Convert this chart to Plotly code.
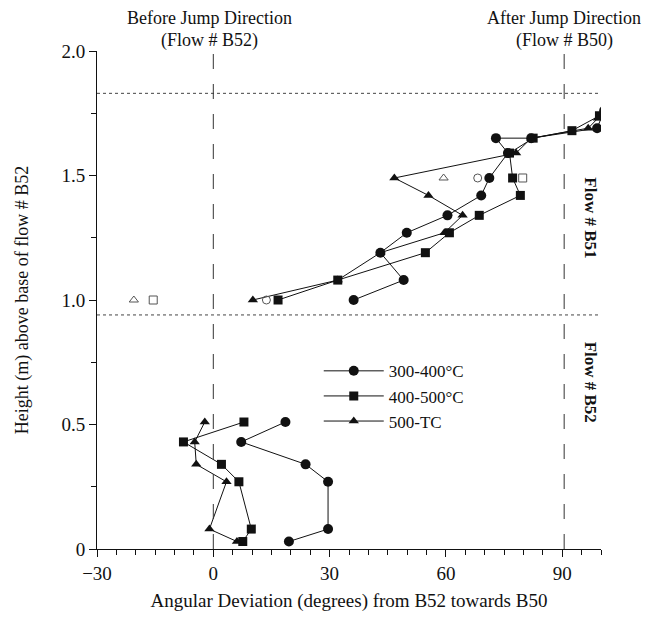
import plotly.graph_objects as go

# ---- data (angular deviation in degrees, height in m) ----
c_x = [19.5, 29.6, 29.6, 23.8, 7.2, 18.6]
c_y = [0.03, 0.08, 0.27, 0.34, 0.43, 0.51]
c2_x = [36.2, 49.1, 43.1, 49.9, 60.4, 69.1, 71.2, 76.0, 72.9, 82.0, 99.0, 100.8]
c2_y = [1.00, 1.08, 1.19, 1.27, 1.34, 1.42, 1.49, 1.59, 1.65, 1.65, 1.69, 1.76]

s_x = [7.6, 9.8, 6.6, 2.1, -7.7, 7.9]
s_y = [0.03, 0.08, 0.27, 0.34, 0.43, 0.51]
s2_x = [16.7, 32.1, 54.7, 60.9, 68.6, 79.2, 77.2, 76.4, 82.5, 92.5, 99.6]
s2_y = [1.00, 1.08, 1.19, 1.27, 1.34, 1.42, 1.49, 1.59, 1.65, 1.68, 1.74]

t_x = [6.1, -1.0, 3.4, -4.4, -4.8, -2.2]
t_y = [0.03, 0.08, 0.27, 0.34, 0.43, 0.51]
t2_x = [10.2, 32.1, 43.1, 59.6, 64.3, 55.5, 46.7, 78.1, 82.0, 96.7, 99.2]
t2_y = [1.00, 1.08, 1.19, 1.27, 1.34, 1.42, 1.49, 1.59, 1.65, 1.69, 1.73]

open_tri_x = [-20.5, 59.4]
open_tri_y = [1.00, 1.49]
open_circ_x = [13.7, 68.2]
open_circ_y = [1.00, 1.49]
open_sq_x = [-15.5, 79.8]
open_sq_y = [1.00, 1.49]

flow_bounds = [0.94, 1.83]
jump_dirs = [0, 90.5]

series_names = ["300-400°C", "400-500°C", "500-TC"]

x_ticks = [-30, 0, 30, 60, 90]
y_ticks = [0, 0.5, 1.0, 1.5, 2.0]
y_ticktext = ["0", "0.5", "1.0", "1.5", "2.0"]

FONT = "Liberation Serif"
BLACK = "#111111"

fig = go.Figure()

def add_series(xl, yl, xu, yu, name, symbol, size):
    fig.add_trace(go.Scatter(x=xl, y=yl, mode="lines+markers", name=name,
                             line=dict(color=BLACK, width=1),
                             marker=dict(symbol=symbol, size=size, color=BLACK),
                             legendgroup=name, showlegend=True))
    fig.add_trace(go.Scatter(x=xu, y=yu, mode="lines+markers", name=name,
                             line=dict(color=BLACK, width=1),
                             marker=dict(symbol=symbol, size=size, color=BLACK),
                             legendgroup=name, showlegend=False))

add_series(c_x, c_y, c2_x, c2_y, series_names[0], "circle", 10)
add_series(s_x, s_y, s2_x, s2_y, series_names[1], "square", 9)
add_series(t_x, t_y, t2_x, t2_y, series_names[2], "triangle-up", 9)

for xs, ys, sym in [(open_tri_x, open_tri_y, "triangle-up-open"),
                    (open_circ_x, open_circ_y, "circle-open"),
                    (open_sq_x, open_sq_y, "square-open")]:
    fig.add_trace(go.Scatter(x=xs, y=ys, mode="markers", showlegend=False,
                             marker=dict(symbol=sym, size=8, color="#555555",
                                         line=dict(width=1, color="#555555"))))

for yb in flow_bounds:
    fig.add_shape(type="line", xref="x", yref="y", x0=-30, x1=100, y0=yb, y1=yb,
                  line=dict(color="#444444", width=1, dash="dot"))
for xd in jump_dirs:
    fig.add_shape(type="line", xref="x", yref="y", x0=xd, x1=xd, y0=0, y1=2.0,
                  line=dict(color="#333333", width=1, dash="longdash"))

ann_font = dict(family=FONT, size=18, color=BLACK)
fig.add_annotation(x=-1, y=1.0, xref="x", yref="paper", yshift=33, showarrow=False,
                   text="Before Jump Direction", font=ann_font, yanchor="middle")
fig.add_annotation(x=-1, y=1.0, xref="x", yref="paper", yshift=11, showarrow=False,
                   text="(Flow # B52)", font=ann_font, yanchor="middle")
fig.add_annotation(x=90.5, y=1.0, xref="x", yref="paper", yshift=33, showarrow=False,
                   text="After Jump Direction", font=ann_font, yanchor="middle")
fig.add_annotation(x=90.5, y=1.0, xref="x", yref="paper", yshift=11, showarrow=False,
                   text="(Flow # B50)", font=ann_font, yanchor="middle")
bold_font = dict(family=FONT, size=17, color=BLACK)
fig.add_annotation(x=97.3, y=1.33, xref="x", yref="y", showarrow=False,
                   text="<b>Flow # B51</b>", textangle=90, font=bold_font)
fig.add_annotation(x=97.3, y=0.67, xref="x", yref="y", showarrow=False,
                   text="<b>Flow # B52</b>", textangle=90, font=bold_font)

fig.update_layout(
    width=650, height=617,
    margin=dict(l=89, r=57, t=43, b=76),
    paper_bgcolor="white", plot_bgcolor="white",
    font=dict(family=FONT, size=18, color=BLACK),
    legend=dict(x=0.44, y=0.393, xanchor="left", yanchor="top",
                bgcolor="rgba(0,0,0,0)", itemwidth=60,
                font=dict(family=FONT, size=17, color=BLACK),
                tracegroupgap=0),
    xaxis=dict(range=[-30, 100], tickvals=x_ticks, showgrid=False, zeroline=False,
               automargin=False,
               showline=True, linecolor=BLACK, linewidth=1,
               ticks="outside", ticklen=7, tickcolor=BLACK,
               minor=dict(dtick=5, tick0=0, ticks="outside", ticklen=5, tickcolor=BLACK),
               title=dict(text="Angular Deviation (degrees) from B52 towards B50",
                          font=dict(family=FONT, size=19), standoff=10),
               tickfont=dict(family=FONT, size=19)),
    yaxis=dict(range=[0, 2.0], tickvals=y_ticks, ticktext=y_ticktext,
               showgrid=False, zeroline=False, automargin=False,
               showline=True, linecolor=BLACK, linewidth=1,
               ticks="outside", ticklen=7, tickcolor=BLACK,
               minor=dict(dtick=0.25, tick0=0, ticks="outside", ticklen=5, tickcolor=BLACK),
               title=dict(text="Height (m) above base of flow # B52",
                          font=dict(family=FONT, size=18), standoff=28),
               tickfont=dict(family=FONT, size=19)),
)

fig.write_html("out.html")
